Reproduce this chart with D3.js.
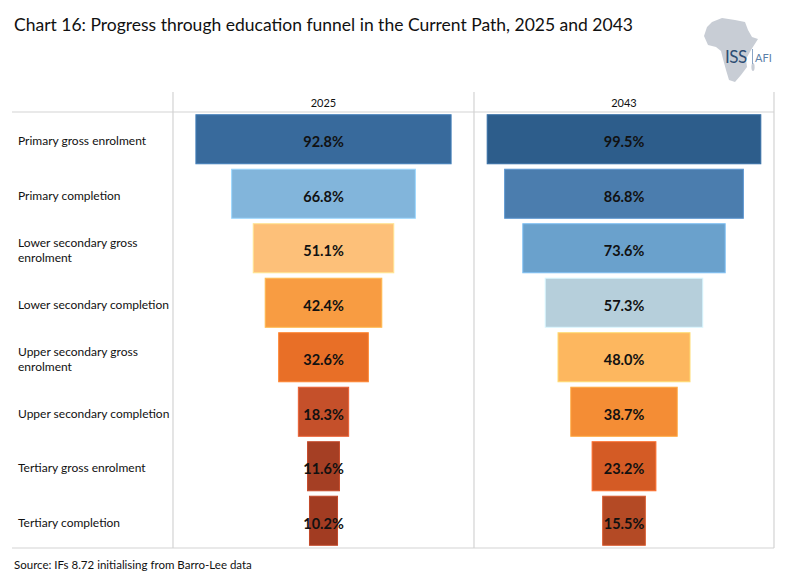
<!DOCTYPE html>
<html lang="en">
<head>
    <meta charset="UTF-8">
    <title>Chart 16</title>
    <script type="text/javascript" src="https://cdn.jsdelivr.net/npm/d3@7"></script>
    <style>
        body { margin: 0; background: #fff; }
        text { font-family: Lato, "Open Sans", sans-serif; }
    </style>
</head>
<body>
    <script type="text/javascript">
        var categories = [
            "Primary gross enrolment", "Primary completion", "Lower secondary gross enrolment",
            "Lower secondary completion", "Upper secondary gross enrolment",
            "Upper secondary completion", "Tertiary gross enrolment", "Tertiary completion"
        ];
        var years = ["2025", "2043"];
        var values2025 = [92.8, 66.8, 51.1, 42.4, 32.6, 18.3, 11.6, 10.2];
        var values2043 = [99.5, 86.8, 73.6, 57.3, 48.0, 38.7, 23.2, 15.5];
        var colors2025 = ["#386a9c", "#82b5db", "#fdc079", "#f89c42", "#e86f27", "#c5502a", "#a53f24", "#a23c22"];
        var colors2043 = ["#2d5d8b", "#4b7dae", "#6aa1cc", "#b6cfdb", "#fdb75f", "#f48d35", "#d45b25", "#b44a25"];

        var w = 786, h = 587;
        var tableTop = 112, tableBottom = 548;
        var panels = [
            { year: years[0], x0: 173, x1: 474, values: values2025, colors: colors2025 },
            { year: years[1], x0: 474, x1: 774, values: values2043, colors: colors2043 }
        ];

        var svg = d3.select("body").append("svg")
            .attr("width", w)
            .attr("height", h);

        svg.append("text")
            .attr("x", 14).attr("y", 31)
            .attr("font-size", 17.5)
            .attr("fill", "#111")
            .text("Chart 16: Progress through education funnel in the Current Path, 2025 and 2043");

        var yScale = d3.scaleBand()
            .domain(categories)
            .range([tableTop, tableBottom])
            .paddingInner(0.1)
            .paddingOuter(0.05);

        var xScale = d3.scaleLinear()
            .domain([0, 100])
            .range([0, 275]);

        // table lines
        var grid = svg.append("g").attr("stroke", "#d3d3d3").attr("stroke-width", 1.2);
        grid.append("line").attr("x1", 12).attr("x2", 774).attr("y1", tableTop).attr("y2", tableTop);
        grid.append("line").attr("x1", 12).attr("x2", 774).attr("y1", tableBottom).attr("y2", tableBottom);
        [173, 474, 774].forEach(function(x) {
            grid.append("line").attr("x1", x).attr("x2", x).attr("y1", 92).attr("y2", tableBottom);
        });

        // row labels
        svg.selectAll("text.row")
            .data(categories)
            .enter()
            .append("text")
            .attr("class", "row")
            .attr("x", 18)
            .attr("y", function(d) { return yScale(d) + yScale.bandwidth() / 2; })
            .attr("font-size", 12)
            .attr("fill", "#111")
            .each(function(d) {
                var el = d3.select(this);
                var words = d.split(" ");
                var lines = [];
                var line = [];
                var tmp = el.append("tspan");
                words.forEach(function(word) {
                    line.push(word);
                    tmp.text(line.join(" "));
                    if (tmp.node().getComputedTextLength() > 154 && line.length > 1) {
                        line.pop();
                        lines.push(line.join(" "));
                        line = [word];
                    }
                });
                lines.push(line.join(" "));
                tmp.remove();
                var y0 = +el.attr("y") - (lines.length - 1) * 7.5 + 6;
                lines.forEach(function(l, i) {
                    el.append("tspan").attr("x", 18).attr("y", y0 + i * 15).text(l);
                });
            });

        panels.forEach(function(p) {
            var cx = (p.x0 + p.x1) / 2;
            var g = svg.append("g");

            g.append("text")
                .attr("x", cx).attr("y", 107)
                .attr("text-anchor", "middle")
                .attr("font-size", 11)
                .attr("fill", "#111")
                .text(p.year);

            g.selectAll("rect")
                .data(p.values)
                .enter()
                .append("rect")
                .attr("x", function(d) { return cx - xScale(d) / 2; })
                .attr("y", function(d, i) { return yScale(categories[i]); })
                .attr("width", function(d) { return xScale(d); })
                .attr("height", yScale.bandwidth())
                .attr("fill", function(d, i) { return p.colors[i]; })
                .attr("stroke", function(d, i) { return d3.color(p.colors[i]).brighter(0.5); })
                .attr("stroke-width", 1);

            g.selectAll("text.val")
                .data(p.values)
                .enter()
                .append("text")
                .attr("class", "val")
                .attr("x", cx)
                .attr("y", function(d, i) { return yScale(categories[i]) + yScale.bandwidth() / 2 + 8; })
                .attr("text-anchor", "middle")
                .attr("font-size", 14.5)
                .attr("font-weight", "bold")
                .attr("fill", "#111")
                .text(function(d) { return d.toFixed(1) + "%"; });
        });

        svg.append("text")
            .attr("x", 14).attr("y", 569)
            .attr("font-size", 11.5)
            .attr("fill", "#111")
            .text("Source: IFs 8.72 initialising from Barro-Lee data");

        // ISS AFI logo
        var logo = svg.append("g");
        logo.append("path")
            .attr("d", "M712,22 L722,18 L735,20 L745,22 L748,30 L752,37 L758,39 L751,50 L746,59 L747,67 L741,75 L735,82 L729,80 L726,70 L723,59 L721,51 L716,47 L708,45 L704,36 L707,27 Z")
            .attr("fill", "#c8cdd5");
        logo.append("ellipse")
            .attr("cx", 753).attr("cy", 67).attr("rx", 1.6).attr("ry", 4)
            .attr("fill", "#c8cdd5");
        logo.append("text")
            .attr("x", 725).attr("y", 63)
            .attr("font-size", 17)
            .attr("fill", "#2d4d73")
            .attr("letter-spacing", -0.5)
            .text("ISS");
        logo.append("line")
            .attr("x1", 752.5).attr("x2", 752.5).attr("y1", 49).attr("y2", 64)
            .attr("stroke", "#8aa5c5").attr("stroke-width", 1);
        logo.append("text")
            .attr("x", 755).attr("y", 62)
            .attr("font-size", 11)
            .attr("fill", "#5b7fa8")
            .text("AFI");
    </script>
</body>
</html>
